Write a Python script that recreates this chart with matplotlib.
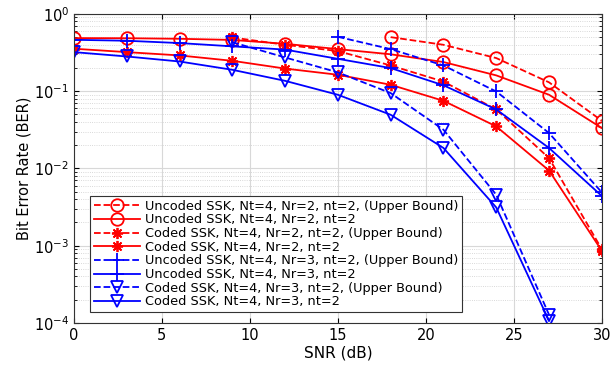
import numpy as np
import matplotlib
matplotlib.use("Agg")
import matplotlib.pyplot as plt

plt.rcParams['font.family'] = ['DejaVu Sans']

snr = [0, 3, 6, 9, 12, 15, 18, 21, 24, 27, 30]
nan = np.nan

# BER values (NaN = not plotted)
unc_nr2_ub = [nan, nan, nan, nan, nan, nan, 0.50, 0.398, 0.268, 0.13, 0.0414]
unc_nr2 = [0.486, 0.484, 0.476, 0.46, 0.41, 0.35, 0.30, 0.238, 0.16, 0.0898, 0.0333]
cod_nr2_ub = [nan, nan, nan, 0.495, 0.398, 0.33, 0.215, 0.133, 0.058, 0.0136, 0.0009]
cod_nr2 = [0.354, 0.32, 0.29, 0.247, 0.196, 0.163, 0.121, 0.075, 0.035, 0.0094, 0.00086]
unc_nr3_ub = [nan, nan, nan, nan, nan, 0.505, 0.35, 0.215, 0.099, 0.0287, 0.0049]
unc_nr3 = [0.462, 0.449, 0.419, 0.38, 0.345, 0.262, 0.199, 0.119, 0.058, 0.0184, 0.0044]
cod_nr3_ub = [nan, nan, nan, 0.43, 0.273, 0.175, 0.0944, 0.0317, 0.00457, 0.000128, nan]
cod_nr3 = [0.32, 0.281, 0.242, 0.189, 0.136, 0.0898, 0.0495, 0.0184, 0.00313, 0.000107, nan]

labels = [
    "Uncoded SSK, Nt=4, Nr=2, nt=2, (Upper Bound)",
    "Uncoded SSK, Nt=4, Nr=2, nt=2",
    "Coded SSK, Nt=4, Nr=2, nt=2, (Upper Bound)",
    "Coded SSK, Nt=4, Nr=2, nt=2",
    "Uncoded SSK, Nt=4, Nr=3, nt=2, (Upper Bound)",
    "Uncoded SSK, Nt=4, Nr=3, nt=2",
    "Coded SSK, Nt=4, Nr=3, nt=2, (Upper Bound)",
    "Coded SSK, Nt=4, Nr=3, nt=2",
]
series = [unc_nr2_ub, unc_nr2, cod_nr2_ub, cod_nr2, unc_nr3_ub, unc_nr3, cod_nr3_ub, cod_nr3]
colors = ['r', 'r', 'r', 'r', 'b', 'b', 'b', 'b']
asterisk = (8, 2, 0)  # MATLAB-like '*'
markers = ['o', 'o', asterisk, asterisk, '+', '+', 'v', 'v']
styles = ['--', '-', '--', '-', '--', '-', '--', '-']
msizes = [9, 9, 8, 8, 10, 10, 9, 9]

fig = plt.figure(figsize=(6.16, 3.65), dpi=100)
ax = fig.add_axes([0.120, 0.115, 0.857, 0.847])

for y, c, m, s, ms, lab in zip(series, colors, markers, styles, msizes, labels):
    ax.semilogy(snr, y, linestyle=s, color=c, marker=m, markersize=ms,
                markerfacecolor='none', markeredgecolor=c, markeredgewidth=1.3,
                linewidth=1.3, label=lab)

ax.set_xlim(0, 30)
ax.set_ylim(1e-4, 1)
ax.set_xticks([0, 5, 10, 15, 20, 25, 30])
ax.set_xlabel("SNR (dB)", fontsize=11, labelpad=2)
ax.set_ylabel("Bit Error Rate (BER)", fontsize=10.5, labelpad=2)
ax.tick_params(which='both', direction='in', top=True, right=True, labelsize=10.5)
ax.grid(True, which='major', color='#d8d8d8', linewidth=0.8, linestyle='-')
ax.grid(True, which='minor', axis='y', color='#cccccc', linewidth=0.6, linestyle=':')
for sp in ax.spines.values():
    sp.set_color('#333333')

leg = ax.legend(loc='lower left', bbox_to_anchor=(0.03, 0.035), fontsize=9.3,
                handlelength=3.6, fancybox=False, framealpha=1,
                edgecolor='#333333', borderpad=0.3, labelspacing=0.05,
                handletextpad=0.35, borderaxespad=0)
leg.get_frame().set_linewidth(0.8)

fig.savefig("out.png", dpi=100)
